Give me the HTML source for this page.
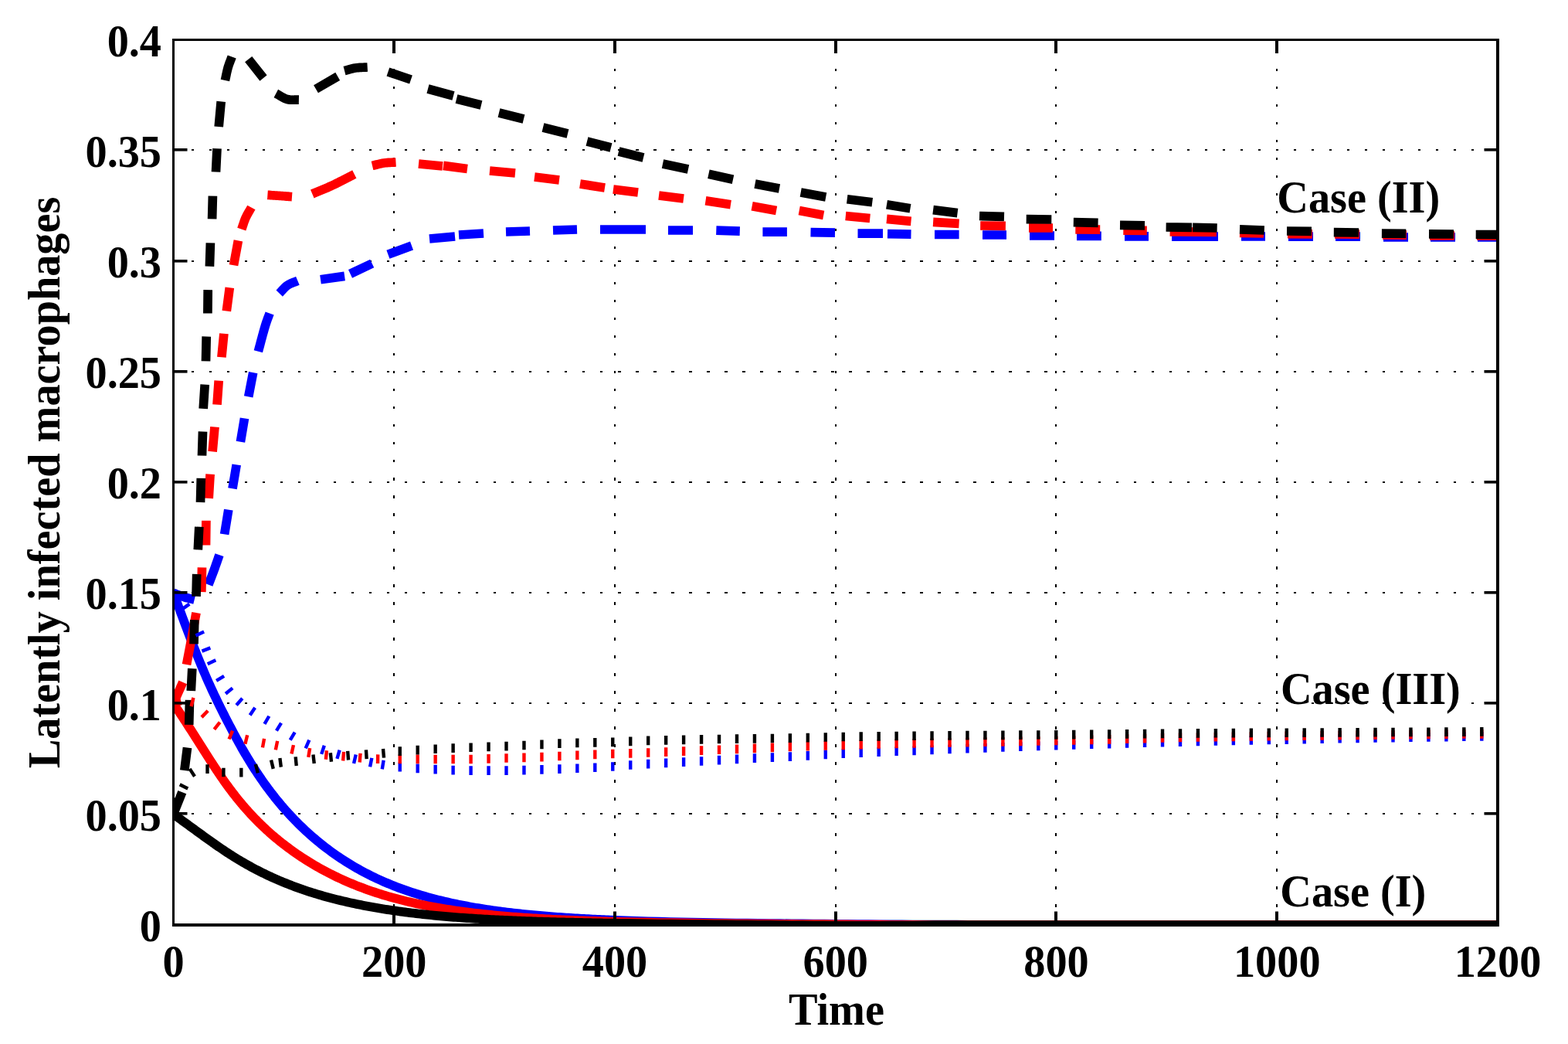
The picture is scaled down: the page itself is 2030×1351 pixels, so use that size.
<!DOCTYPE html>
<html><head><meta charset="utf-8"><title>Latently infected macrophages</title><style>html,body{margin:0;padding:0;background:#fff;overflow:hidden}svg{display:block}</style></head><body>
<svg width="2030" height="1351" viewBox="0 0 2030 1351">
<defs><clipPath id="ax"><rect x="224.5" y="51.5" width="1714.5" height="1145.5"/></clipPath></defs>
<rect width="2030" height="1351" fill="#fff"/>
<g fill="#000" shape-rendering="crispEdges"><rect x="509" y="1170" width="2" height="4"/><rect x="509" y="1147" width="2" height="4"/><rect x="509" y="1124" width="2" height="4"/><rect x="509" y="1101" width="2" height="4"/><rect x="509" y="1078" width="2" height="4"/><rect x="509" y="1055" width="2" height="4"/><rect x="509" y="1032" width="2" height="4"/><rect x="509" y="1009" width="2" height="4"/><rect x="509" y="986" width="2" height="4"/><rect x="509" y="963" width="2" height="4"/><rect x="509" y="940" width="2" height="4"/><rect x="509" y="917" width="2" height="4"/><rect x="509" y="894" width="2" height="4"/><rect x="509" y="871" width="2" height="4"/><rect x="509" y="848" width="2" height="4"/><rect x="509" y="825" width="2" height="4"/><rect x="509" y="802" width="2" height="4"/><rect x="509" y="779" width="2" height="4"/><rect x="509" y="756" width="2" height="4"/><rect x="509" y="733" width="2" height="4"/><rect x="509" y="710" width="2" height="4"/><rect x="509" y="687" width="2" height="4"/><rect x="509" y="664" width="2" height="4"/><rect x="509" y="641" width="2" height="4"/><rect x="509" y="618" width="2" height="4"/><rect x="509" y="595" width="2" height="3"/><rect x="509" y="572" width="2" height="3"/><rect x="509" y="549" width="2" height="3"/><rect x="509" y="526" width="2" height="3"/><rect x="509" y="503" width="2" height="3"/><rect x="509" y="480" width="2" height="3"/><rect x="509" y="457" width="2" height="3"/><rect x="509" y="434" width="2" height="3"/><rect x="509" y="411" width="2" height="3"/><rect x="509" y="388" width="2" height="3"/><rect x="509" y="365" width="2" height="3"/><rect x="509" y="342" width="2" height="3"/><rect x="509" y="319" width="2" height="3"/><rect x="509" y="296" width="2" height="3"/><rect x="509" y="273" width="2" height="3"/><rect x="509" y="250" width="2" height="3"/><rect x="509" y="227" width="2" height="3"/><rect x="509" y="204" width="2" height="3"/><rect x="509" y="181" width="2" height="3"/><rect x="509" y="158" width="2" height="3"/><rect x="509" y="135" width="2" height="3"/><rect x="509" y="112" width="2" height="3"/><rect x="509" y="89" width="2" height="3"/><rect x="509" y="66" width="2" height="3"/><rect x="795" y="1170" width="2" height="4"/><rect x="795" y="1147" width="2" height="4"/><rect x="795" y="1124" width="2" height="4"/><rect x="795" y="1101" width="2" height="4"/><rect x="795" y="1078" width="2" height="4"/><rect x="795" y="1055" width="2" height="4"/><rect x="795" y="1032" width="2" height="4"/><rect x="795" y="1009" width="2" height="4"/><rect x="795" y="986" width="2" height="4"/><rect x="795" y="963" width="2" height="4"/><rect x="795" y="940" width="2" height="4"/><rect x="795" y="917" width="2" height="4"/><rect x="795" y="894" width="2" height="4"/><rect x="795" y="871" width="2" height="4"/><rect x="795" y="848" width="2" height="4"/><rect x="795" y="825" width="2" height="4"/><rect x="795" y="802" width="2" height="4"/><rect x="795" y="779" width="2" height="4"/><rect x="795" y="756" width="2" height="4"/><rect x="795" y="733" width="2" height="4"/><rect x="795" y="710" width="2" height="4"/><rect x="795" y="687" width="2" height="4"/><rect x="795" y="664" width="2" height="4"/><rect x="795" y="641" width="2" height="4"/><rect x="795" y="618" width="2" height="4"/><rect x="795" y="595" width="2" height="3"/><rect x="795" y="572" width="2" height="3"/><rect x="795" y="549" width="2" height="3"/><rect x="795" y="526" width="2" height="3"/><rect x="795" y="503" width="2" height="3"/><rect x="795" y="480" width="2" height="3"/><rect x="795" y="457" width="2" height="3"/><rect x="795" y="434" width="2" height="3"/><rect x="795" y="411" width="2" height="3"/><rect x="795" y="388" width="2" height="3"/><rect x="795" y="365" width="2" height="3"/><rect x="795" y="342" width="2" height="3"/><rect x="795" y="319" width="2" height="3"/><rect x="795" y="296" width="2" height="3"/><rect x="795" y="273" width="2" height="3"/><rect x="795" y="250" width="2" height="3"/><rect x="795" y="227" width="2" height="3"/><rect x="795" y="204" width="2" height="3"/><rect x="795" y="181" width="2" height="3"/><rect x="795" y="158" width="2" height="3"/><rect x="795" y="135" width="2" height="3"/><rect x="795" y="112" width="2" height="3"/><rect x="795" y="89" width="2" height="3"/><rect x="795" y="66" width="2" height="3"/><rect x="1081" y="1170" width="2" height="4"/><rect x="1081" y="1147" width="2" height="4"/><rect x="1081" y="1124" width="2" height="4"/><rect x="1081" y="1101" width="2" height="4"/><rect x="1081" y="1078" width="2" height="4"/><rect x="1081" y="1055" width="2" height="4"/><rect x="1081" y="1032" width="2" height="4"/><rect x="1081" y="1009" width="2" height="4"/><rect x="1081" y="986" width="2" height="4"/><rect x="1081" y="963" width="2" height="4"/><rect x="1081" y="940" width="2" height="4"/><rect x="1081" y="917" width="2" height="4"/><rect x="1081" y="894" width="2" height="4"/><rect x="1081" y="871" width="2" height="4"/><rect x="1081" y="848" width="2" height="4"/><rect x="1081" y="825" width="2" height="4"/><rect x="1081" y="802" width="2" height="4"/><rect x="1081" y="779" width="2" height="4"/><rect x="1081" y="756" width="2" height="4"/><rect x="1081" y="733" width="2" height="4"/><rect x="1081" y="710" width="2" height="4"/><rect x="1081" y="687" width="2" height="4"/><rect x="1081" y="664" width="2" height="4"/><rect x="1081" y="641" width="2" height="4"/><rect x="1081" y="618" width="2" height="4"/><rect x="1081" y="595" width="2" height="3"/><rect x="1081" y="572" width="2" height="3"/><rect x="1081" y="549" width="2" height="3"/><rect x="1081" y="526" width="2" height="3"/><rect x="1081" y="503" width="2" height="3"/><rect x="1081" y="480" width="2" height="3"/><rect x="1081" y="457" width="2" height="3"/><rect x="1081" y="434" width="2" height="3"/><rect x="1081" y="411" width="2" height="3"/><rect x="1081" y="388" width="2" height="3"/><rect x="1081" y="365" width="2" height="3"/><rect x="1081" y="342" width="2" height="3"/><rect x="1081" y="319" width="2" height="3"/><rect x="1081" y="296" width="2" height="3"/><rect x="1081" y="273" width="2" height="3"/><rect x="1081" y="250" width="2" height="3"/><rect x="1081" y="227" width="2" height="3"/><rect x="1081" y="204" width="2" height="3"/><rect x="1081" y="181" width="2" height="3"/><rect x="1081" y="158" width="2" height="3"/><rect x="1081" y="135" width="2" height="3"/><rect x="1081" y="112" width="2" height="3"/><rect x="1081" y="89" width="2" height="3"/><rect x="1081" y="66" width="2" height="3"/><rect x="1366" y="1170" width="2" height="4"/><rect x="1366" y="1147" width="2" height="4"/><rect x="1366" y="1124" width="2" height="4"/><rect x="1366" y="1101" width="2" height="4"/><rect x="1366" y="1078" width="2" height="4"/><rect x="1366" y="1055" width="2" height="4"/><rect x="1366" y="1032" width="2" height="4"/><rect x="1366" y="1009" width="2" height="4"/><rect x="1366" y="986" width="2" height="4"/><rect x="1366" y="963" width="2" height="4"/><rect x="1366" y="940" width="2" height="4"/><rect x="1366" y="917" width="2" height="4"/><rect x="1366" y="894" width="2" height="4"/><rect x="1366" y="871" width="2" height="4"/><rect x="1366" y="848" width="2" height="4"/><rect x="1366" y="825" width="2" height="4"/><rect x="1366" y="802" width="2" height="4"/><rect x="1366" y="779" width="2" height="4"/><rect x="1366" y="756" width="2" height="4"/><rect x="1366" y="733" width="2" height="4"/><rect x="1366" y="710" width="2" height="4"/><rect x="1366" y="687" width="2" height="4"/><rect x="1366" y="664" width="2" height="4"/><rect x="1366" y="641" width="2" height="4"/><rect x="1366" y="618" width="2" height="4"/><rect x="1366" y="595" width="2" height="3"/><rect x="1366" y="572" width="2" height="3"/><rect x="1366" y="549" width="2" height="3"/><rect x="1366" y="526" width="2" height="3"/><rect x="1366" y="503" width="2" height="3"/><rect x="1366" y="480" width="2" height="3"/><rect x="1366" y="457" width="2" height="3"/><rect x="1366" y="434" width="2" height="3"/><rect x="1366" y="411" width="2" height="3"/><rect x="1366" y="388" width="2" height="3"/><rect x="1366" y="365" width="2" height="3"/><rect x="1366" y="342" width="2" height="3"/><rect x="1366" y="319" width="2" height="3"/><rect x="1366" y="296" width="2" height="3"/><rect x="1366" y="273" width="2" height="3"/><rect x="1366" y="250" width="2" height="3"/><rect x="1366" y="227" width="2" height="3"/><rect x="1366" y="204" width="2" height="3"/><rect x="1366" y="181" width="2" height="3"/><rect x="1366" y="158" width="2" height="3"/><rect x="1366" y="135" width="2" height="3"/><rect x="1366" y="112" width="2" height="3"/><rect x="1366" y="89" width="2" height="3"/><rect x="1366" y="66" width="2" height="3"/><rect x="1652" y="1170" width="2" height="4"/><rect x="1652" y="1147" width="2" height="4"/><rect x="1652" y="1124" width="2" height="4"/><rect x="1652" y="1101" width="2" height="4"/><rect x="1652" y="1078" width="2" height="4"/><rect x="1652" y="1055" width="2" height="4"/><rect x="1652" y="1032" width="2" height="4"/><rect x="1652" y="1009" width="2" height="4"/><rect x="1652" y="986" width="2" height="4"/><rect x="1652" y="963" width="2" height="4"/><rect x="1652" y="940" width="2" height="4"/><rect x="1652" y="917" width="2" height="4"/><rect x="1652" y="894" width="2" height="4"/><rect x="1652" y="871" width="2" height="4"/><rect x="1652" y="848" width="2" height="4"/><rect x="1652" y="825" width="2" height="4"/><rect x="1652" y="802" width="2" height="4"/><rect x="1652" y="779" width="2" height="4"/><rect x="1652" y="756" width="2" height="4"/><rect x="1652" y="733" width="2" height="4"/><rect x="1652" y="710" width="2" height="4"/><rect x="1652" y="687" width="2" height="4"/><rect x="1652" y="664" width="2" height="4"/><rect x="1652" y="641" width="2" height="4"/><rect x="1652" y="618" width="2" height="4"/><rect x="1652" y="595" width="2" height="3"/><rect x="1652" y="572" width="2" height="3"/><rect x="1652" y="549" width="2" height="3"/><rect x="1652" y="526" width="2" height="3"/><rect x="1652" y="503" width="2" height="3"/><rect x="1652" y="480" width="2" height="3"/><rect x="1652" y="457" width="2" height="3"/><rect x="1652" y="434" width="2" height="3"/><rect x="1652" y="411" width="2" height="3"/><rect x="1652" y="388" width="2" height="3"/><rect x="1652" y="365" width="2" height="3"/><rect x="1652" y="342" width="2" height="3"/><rect x="1652" y="319" width="2" height="3"/><rect x="1652" y="296" width="2" height="3"/><rect x="1652" y="273" width="2" height="3"/><rect x="1652" y="250" width="2" height="3"/><rect x="1652" y="227" width="2" height="3"/><rect x="1652" y="204" width="2" height="3"/><rect x="1652" y="181" width="2" height="3"/><rect x="1652" y="158" width="2" height="3"/><rect x="1652" y="135" width="2" height="3"/><rect x="1652" y="112" width="2" height="3"/><rect x="1652" y="89" width="2" height="3"/><rect x="1652" y="66" width="2" height="3"/><rect x="248" y="1052" width="3" height="2"/><rect x="271" y="1052" width="3" height="2"/><rect x="294" y="1052" width="3" height="2"/><rect x="317" y="1052" width="3" height="2"/><rect x="340" y="1052" width="3" height="2"/><rect x="363" y="1052" width="3" height="2"/><rect x="386" y="1052" width="3" height="2"/><rect x="409" y="1052" width="3" height="2"/><rect x="432" y="1052" width="3" height="2"/><rect x="455" y="1052" width="3" height="2"/><rect x="478" y="1052" width="3" height="2"/><rect x="501" y="1052" width="3" height="2"/><rect x="524" y="1052" width="3" height="2"/><rect x="547" y="1052" width="3" height="2"/><rect x="570" y="1052" width="3" height="2"/><rect x="593" y="1052" width="3" height="2"/><rect x="616" y="1052" width="3" height="2"/><rect x="639" y="1052" width="3" height="2"/><rect x="662" y="1052" width="3" height="2"/><rect x="685" y="1052" width="3" height="2"/><rect x="708" y="1052" width="3" height="2"/><rect x="731" y="1052" width="3" height="2"/><rect x="754" y="1052" width="3" height="2"/><rect x="777" y="1052" width="3" height="2"/><rect x="800" y="1052" width="4" height="2"/><rect x="823" y="1052" width="4" height="2"/><rect x="846" y="1052" width="4" height="2"/><rect x="869" y="1052" width="4" height="2"/><rect x="892" y="1052" width="4" height="2"/><rect x="915" y="1052" width="4" height="2"/><rect x="938" y="1052" width="4" height="2"/><rect x="961" y="1052" width="4" height="2"/><rect x="984" y="1052" width="4" height="2"/><rect x="1007" y="1052" width="4" height="2"/><rect x="1030" y="1052" width="4" height="2"/><rect x="1053" y="1052" width="4" height="2"/><rect x="1076" y="1052" width="4" height="2"/><rect x="1099" y="1052" width="4" height="2"/><rect x="1122" y="1052" width="4" height="2"/><rect x="1145" y="1052" width="4" height="2"/><rect x="1168" y="1052" width="4" height="2"/><rect x="1191" y="1052" width="4" height="2"/><rect x="1214" y="1052" width="4" height="2"/><rect x="1237" y="1052" width="4" height="2"/><rect x="1260" y="1052" width="4" height="2"/><rect x="1283" y="1052" width="4" height="2"/><rect x="1306" y="1052" width="4" height="2"/><rect x="1329" y="1052" width="4" height="2"/><rect x="1352" y="1052" width="4" height="2"/><rect x="1376" y="1052" width="3" height="2"/><rect x="1399" y="1052" width="3" height="2"/><rect x="1422" y="1052" width="3" height="2"/><rect x="1445" y="1052" width="3" height="2"/><rect x="1468" y="1052" width="3" height="2"/><rect x="1491" y="1052" width="3" height="2"/><rect x="1514" y="1052" width="3" height="2"/><rect x="1537" y="1052" width="3" height="2"/><rect x="1560" y="1052" width="3" height="2"/><rect x="1583" y="1052" width="3" height="2"/><rect x="1606" y="1052" width="3" height="2"/><rect x="1629" y="1052" width="3" height="2"/><rect x="1652" y="1052" width="3" height="2"/><rect x="1675" y="1052" width="3" height="2"/><rect x="1698" y="1052" width="3" height="2"/><rect x="1721" y="1052" width="3" height="2"/><rect x="1744" y="1052" width="3" height="2"/><rect x="1767" y="1052" width="3" height="2"/><rect x="1790" y="1052" width="3" height="2"/><rect x="1813" y="1052" width="3" height="2"/><rect x="1836" y="1052" width="3" height="2"/><rect x="1859" y="1052" width="3" height="2"/><rect x="1882" y="1052" width="3" height="2"/><rect x="1905" y="1052" width="3" height="2"/><rect x="1928" y="1052" width="3" height="2"/><rect x="248" y="909" width="3" height="2"/><rect x="271" y="909" width="3" height="2"/><rect x="294" y="909" width="3" height="2"/><rect x="317" y="909" width="3" height="2"/><rect x="340" y="909" width="3" height="2"/><rect x="363" y="909" width="3" height="2"/><rect x="386" y="909" width="3" height="2"/><rect x="409" y="909" width="3" height="2"/><rect x="432" y="909" width="3" height="2"/><rect x="455" y="909" width="3" height="2"/><rect x="478" y="909" width="3" height="2"/><rect x="501" y="909" width="3" height="2"/><rect x="524" y="909" width="3" height="2"/><rect x="547" y="909" width="3" height="2"/><rect x="570" y="909" width="3" height="2"/><rect x="593" y="909" width="3" height="2"/><rect x="616" y="909" width="3" height="2"/><rect x="639" y="909" width="3" height="2"/><rect x="662" y="909" width="3" height="2"/><rect x="685" y="909" width="3" height="2"/><rect x="708" y="909" width="3" height="2"/><rect x="731" y="909" width="3" height="2"/><rect x="754" y="909" width="3" height="2"/><rect x="777" y="909" width="3" height="2"/><rect x="800" y="909" width="4" height="2"/><rect x="823" y="909" width="4" height="2"/><rect x="846" y="909" width="4" height="2"/><rect x="869" y="909" width="4" height="2"/><rect x="892" y="909" width="4" height="2"/><rect x="915" y="909" width="4" height="2"/><rect x="938" y="909" width="4" height="2"/><rect x="961" y="909" width="4" height="2"/><rect x="984" y="909" width="4" height="2"/><rect x="1007" y="909" width="4" height="2"/><rect x="1030" y="909" width="4" height="2"/><rect x="1053" y="909" width="4" height="2"/><rect x="1076" y="909" width="4" height="2"/><rect x="1099" y="909" width="4" height="2"/><rect x="1122" y="909" width="4" height="2"/><rect x="1145" y="909" width="4" height="2"/><rect x="1168" y="909" width="4" height="2"/><rect x="1191" y="909" width="4" height="2"/><rect x="1214" y="909" width="4" height="2"/><rect x="1237" y="909" width="4" height="2"/><rect x="1260" y="909" width="4" height="2"/><rect x="1283" y="909" width="4" height="2"/><rect x="1306" y="909" width="4" height="2"/><rect x="1329" y="909" width="4" height="2"/><rect x="1352" y="909" width="4" height="2"/><rect x="1376" y="909" width="3" height="2"/><rect x="1399" y="909" width="3" height="2"/><rect x="1422" y="909" width="3" height="2"/><rect x="1445" y="909" width="3" height="2"/><rect x="1468" y="909" width="3" height="2"/><rect x="1491" y="909" width="3" height="2"/><rect x="1514" y="909" width="3" height="2"/><rect x="1537" y="909" width="3" height="2"/><rect x="1560" y="909" width="3" height="2"/><rect x="1583" y="909" width="3" height="2"/><rect x="1606" y="909" width="3" height="2"/><rect x="1629" y="909" width="3" height="2"/><rect x="1652" y="909" width="3" height="2"/><rect x="1675" y="909" width="3" height="2"/><rect x="1698" y="909" width="3" height="2"/><rect x="1721" y="909" width="3" height="2"/><rect x="1744" y="909" width="3" height="2"/><rect x="1767" y="909" width="3" height="2"/><rect x="1790" y="909" width="3" height="2"/><rect x="1813" y="909" width="3" height="2"/><rect x="1836" y="909" width="3" height="2"/><rect x="1859" y="909" width="3" height="2"/><rect x="1882" y="909" width="3" height="2"/><rect x="1905" y="909" width="3" height="2"/><rect x="1928" y="909" width="3" height="2"/><rect x="248" y="766" width="3" height="2"/><rect x="271" y="766" width="3" height="2"/><rect x="294" y="766" width="3" height="2"/><rect x="317" y="766" width="3" height="2"/><rect x="340" y="766" width="3" height="2"/><rect x="363" y="766" width="3" height="2"/><rect x="386" y="766" width="3" height="2"/><rect x="409" y="766" width="3" height="2"/><rect x="432" y="766" width="3" height="2"/><rect x="455" y="766" width="3" height="2"/><rect x="478" y="766" width="3" height="2"/><rect x="501" y="766" width="3" height="2"/><rect x="524" y="766" width="3" height="2"/><rect x="547" y="766" width="3" height="2"/><rect x="570" y="766" width="3" height="2"/><rect x="593" y="766" width="3" height="2"/><rect x="616" y="766" width="3" height="2"/><rect x="639" y="766" width="3" height="2"/><rect x="662" y="766" width="3" height="2"/><rect x="685" y="766" width="3" height="2"/><rect x="708" y="766" width="3" height="2"/><rect x="731" y="766" width="3" height="2"/><rect x="754" y="766" width="3" height="2"/><rect x="777" y="766" width="3" height="2"/><rect x="800" y="766" width="4" height="2"/><rect x="823" y="766" width="4" height="2"/><rect x="846" y="766" width="4" height="2"/><rect x="869" y="766" width="4" height="2"/><rect x="892" y="766" width="4" height="2"/><rect x="915" y="766" width="4" height="2"/><rect x="938" y="766" width="4" height="2"/><rect x="961" y="766" width="4" height="2"/><rect x="984" y="766" width="4" height="2"/><rect x="1007" y="766" width="4" height="2"/><rect x="1030" y="766" width="4" height="2"/><rect x="1053" y="766" width="4" height="2"/><rect x="1076" y="766" width="4" height="2"/><rect x="1099" y="766" width="4" height="2"/><rect x="1122" y="766" width="4" height="2"/><rect x="1145" y="766" width="4" height="2"/><rect x="1168" y="766" width="4" height="2"/><rect x="1191" y="766" width="4" height="2"/><rect x="1214" y="766" width="4" height="2"/><rect x="1237" y="766" width="4" height="2"/><rect x="1260" y="766" width="4" height="2"/><rect x="1283" y="766" width="4" height="2"/><rect x="1306" y="766" width="4" height="2"/><rect x="1329" y="766" width="4" height="2"/><rect x="1352" y="766" width="4" height="2"/><rect x="1376" y="766" width="3" height="2"/><rect x="1399" y="766" width="3" height="2"/><rect x="1422" y="766" width="3" height="2"/><rect x="1445" y="766" width="3" height="2"/><rect x="1468" y="766" width="3" height="2"/><rect x="1491" y="766" width="3" height="2"/><rect x="1514" y="766" width="3" height="2"/><rect x="1537" y="766" width="3" height="2"/><rect x="1560" y="766" width="3" height="2"/><rect x="1583" y="766" width="3" height="2"/><rect x="1606" y="766" width="3" height="2"/><rect x="1629" y="766" width="3" height="2"/><rect x="1652" y="766" width="3" height="2"/><rect x="1675" y="766" width="3" height="2"/><rect x="1698" y="766" width="3" height="2"/><rect x="1721" y="766" width="3" height="2"/><rect x="1744" y="766" width="3" height="2"/><rect x="1767" y="766" width="3" height="2"/><rect x="1790" y="766" width="3" height="2"/><rect x="1813" y="766" width="3" height="2"/><rect x="1836" y="766" width="3" height="2"/><rect x="1859" y="766" width="3" height="2"/><rect x="1882" y="766" width="3" height="2"/><rect x="1905" y="766" width="3" height="2"/><rect x="1928" y="766" width="3" height="2"/><rect x="248" y="623" width="3" height="2"/><rect x="271" y="623" width="3" height="2"/><rect x="294" y="623" width="3" height="2"/><rect x="317" y="623" width="3" height="2"/><rect x="340" y="623" width="3" height="2"/><rect x="363" y="623" width="3" height="2"/><rect x="386" y="623" width="3" height="2"/><rect x="409" y="623" width="3" height="2"/><rect x="432" y="623" width="3" height="2"/><rect x="455" y="623" width="3" height="2"/><rect x="478" y="623" width="3" height="2"/><rect x="501" y="623" width="3" height="2"/><rect x="524" y="623" width="3" height="2"/><rect x="547" y="623" width="3" height="2"/><rect x="570" y="623" width="3" height="2"/><rect x="593" y="623" width="3" height="2"/><rect x="616" y="623" width="3" height="2"/><rect x="639" y="623" width="3" height="2"/><rect x="662" y="623" width="3" height="2"/><rect x="685" y="623" width="3" height="2"/><rect x="708" y="623" width="3" height="2"/><rect x="731" y="623" width="3" height="2"/><rect x="754" y="623" width="3" height="2"/><rect x="777" y="623" width="3" height="2"/><rect x="800" y="623" width="4" height="2"/><rect x="823" y="623" width="4" height="2"/><rect x="846" y="623" width="4" height="2"/><rect x="869" y="623" width="4" height="2"/><rect x="892" y="623" width="4" height="2"/><rect x="915" y="623" width="4" height="2"/><rect x="938" y="623" width="4" height="2"/><rect x="961" y="623" width="4" height="2"/><rect x="984" y="623" width="4" height="2"/><rect x="1007" y="623" width="4" height="2"/><rect x="1030" y="623" width="4" height="2"/><rect x="1053" y="623" width="4" height="2"/><rect x="1076" y="623" width="4" height="2"/><rect x="1099" y="623" width="4" height="2"/><rect x="1122" y="623" width="4" height="2"/><rect x="1145" y="623" width="4" height="2"/><rect x="1168" y="623" width="4" height="2"/><rect x="1191" y="623" width="4" height="2"/><rect x="1214" y="623" width="4" height="2"/><rect x="1237" y="623" width="4" height="2"/><rect x="1260" y="623" width="4" height="2"/><rect x="1283" y="623" width="4" height="2"/><rect x="1306" y="623" width="4" height="2"/><rect x="1329" y="623" width="4" height="2"/><rect x="1352" y="623" width="4" height="2"/><rect x="1376" y="623" width="3" height="2"/><rect x="1399" y="623" width="3" height="2"/><rect x="1422" y="623" width="3" height="2"/><rect x="1445" y="623" width="3" height="2"/><rect x="1468" y="623" width="3" height="2"/><rect x="1491" y="623" width="3" height="2"/><rect x="1514" y="623" width="3" height="2"/><rect x="1537" y="623" width="3" height="2"/><rect x="1560" y="623" width="3" height="2"/><rect x="1583" y="623" width="3" height="2"/><rect x="1606" y="623" width="3" height="2"/><rect x="1629" y="623" width="3" height="2"/><rect x="1652" y="623" width="3" height="2"/><rect x="1675" y="623" width="3" height="2"/><rect x="1698" y="623" width="3" height="2"/><rect x="1721" y="623" width="3" height="2"/><rect x="1744" y="623" width="3" height="2"/><rect x="1767" y="623" width="3" height="2"/><rect x="1790" y="623" width="3" height="2"/><rect x="1813" y="623" width="3" height="2"/><rect x="1836" y="623" width="3" height="2"/><rect x="1859" y="623" width="3" height="2"/><rect x="1882" y="623" width="3" height="2"/><rect x="1905" y="623" width="3" height="2"/><rect x="1928" y="623" width="3" height="2"/><rect x="248" y="480" width="3" height="2"/><rect x="271" y="480" width="3" height="2"/><rect x="294" y="480" width="3" height="2"/><rect x="317" y="480" width="3" height="2"/><rect x="340" y="480" width="3" height="2"/><rect x="363" y="480" width="3" height="2"/><rect x="386" y="480" width="3" height="2"/><rect x="409" y="480" width="3" height="2"/><rect x="432" y="480" width="3" height="2"/><rect x="455" y="480" width="3" height="2"/><rect x="478" y="480" width="3" height="2"/><rect x="501" y="480" width="3" height="2"/><rect x="524" y="480" width="3" height="2"/><rect x="547" y="480" width="3" height="2"/><rect x="570" y="480" width="3" height="2"/><rect x="593" y="480" width="3" height="2"/><rect x="616" y="480" width="3" height="2"/><rect x="639" y="480" width="3" height="2"/><rect x="662" y="480" width="3" height="2"/><rect x="685" y="480" width="3" height="2"/><rect x="708" y="480" width="3" height="2"/><rect x="731" y="480" width="3" height="2"/><rect x="754" y="480" width="3" height="2"/><rect x="777" y="480" width="3" height="2"/><rect x="800" y="480" width="4" height="2"/><rect x="823" y="480" width="4" height="2"/><rect x="846" y="480" width="4" height="2"/><rect x="869" y="480" width="4" height="2"/><rect x="892" y="480" width="4" height="2"/><rect x="915" y="480" width="4" height="2"/><rect x="938" y="480" width="4" height="2"/><rect x="961" y="480" width="4" height="2"/><rect x="984" y="480" width="4" height="2"/><rect x="1007" y="480" width="4" height="2"/><rect x="1030" y="480" width="4" height="2"/><rect x="1053" y="480" width="4" height="2"/><rect x="1076" y="480" width="4" height="2"/><rect x="1099" y="480" width="4" height="2"/><rect x="1122" y="480" width="4" height="2"/><rect x="1145" y="480" width="4" height="2"/><rect x="1168" y="480" width="4" height="2"/><rect x="1191" y="480" width="4" height="2"/><rect x="1214" y="480" width="4" height="2"/><rect x="1237" y="480" width="4" height="2"/><rect x="1260" y="480" width="4" height="2"/><rect x="1283" y="480" width="4" height="2"/><rect x="1306" y="480" width="4" height="2"/><rect x="1329" y="480" width="4" height="2"/><rect x="1352" y="480" width="4" height="2"/><rect x="1376" y="480" width="3" height="2"/><rect x="1399" y="480" width="3" height="2"/><rect x="1422" y="480" width="3" height="2"/><rect x="1445" y="480" width="3" height="2"/><rect x="1468" y="480" width="3" height="2"/><rect x="1491" y="480" width="3" height="2"/><rect x="1514" y="480" width="3" height="2"/><rect x="1537" y="480" width="3" height="2"/><rect x="1560" y="480" width="3" height="2"/><rect x="1583" y="480" width="3" height="2"/><rect x="1606" y="480" width="3" height="2"/><rect x="1629" y="480" width="3" height="2"/><rect x="1652" y="480" width="3" height="2"/><rect x="1675" y="480" width="3" height="2"/><rect x="1698" y="480" width="3" height="2"/><rect x="1721" y="480" width="3" height="2"/><rect x="1744" y="480" width="3" height="2"/><rect x="1767" y="480" width="3" height="2"/><rect x="1790" y="480" width="3" height="2"/><rect x="1813" y="480" width="3" height="2"/><rect x="1836" y="480" width="3" height="2"/><rect x="1859" y="480" width="3" height="2"/><rect x="1882" y="480" width="3" height="2"/><rect x="1905" y="480" width="3" height="2"/><rect x="1928" y="480" width="3" height="2"/><rect x="248" y="337" width="3" height="2"/><rect x="271" y="337" width="3" height="2"/><rect x="294" y="337" width="3" height="2"/><rect x="317" y="337" width="3" height="2"/><rect x="340" y="337" width="3" height="2"/><rect x="363" y="337" width="3" height="2"/><rect x="386" y="337" width="3" height="2"/><rect x="409" y="337" width="3" height="2"/><rect x="432" y="337" width="3" height="2"/><rect x="455" y="337" width="3" height="2"/><rect x="478" y="337" width="3" height="2"/><rect x="501" y="337" width="3" height="2"/><rect x="524" y="337" width="3" height="2"/><rect x="547" y="337" width="3" height="2"/><rect x="570" y="337" width="3" height="2"/><rect x="593" y="337" width="3" height="2"/><rect x="616" y="337" width="3" height="2"/><rect x="639" y="337" width="3" height="2"/><rect x="662" y="337" width="3" height="2"/><rect x="685" y="337" width="3" height="2"/><rect x="708" y="337" width="3" height="2"/><rect x="731" y="337" width="3" height="2"/><rect x="754" y="337" width="3" height="2"/><rect x="777" y="337" width="3" height="2"/><rect x="800" y="337" width="4" height="2"/><rect x="823" y="337" width="4" height="2"/><rect x="846" y="337" width="4" height="2"/><rect x="869" y="337" width="4" height="2"/><rect x="892" y="337" width="4" height="2"/><rect x="915" y="337" width="4" height="2"/><rect x="938" y="337" width="4" height="2"/><rect x="961" y="337" width="4" height="2"/><rect x="984" y="337" width="4" height="2"/><rect x="1007" y="337" width="4" height="2"/><rect x="1030" y="337" width="4" height="2"/><rect x="1053" y="337" width="4" height="2"/><rect x="1076" y="337" width="4" height="2"/><rect x="1099" y="337" width="4" height="2"/><rect x="1122" y="337" width="4" height="2"/><rect x="1145" y="337" width="4" height="2"/><rect x="1168" y="337" width="4" height="2"/><rect x="1191" y="337" width="4" height="2"/><rect x="1214" y="337" width="4" height="2"/><rect x="1237" y="337" width="4" height="2"/><rect x="1260" y="337" width="4" height="2"/><rect x="1283" y="337" width="4" height="2"/><rect x="1306" y="337" width="4" height="2"/><rect x="1329" y="337" width="4" height="2"/><rect x="1352" y="337" width="4" height="2"/><rect x="1376" y="337" width="3" height="2"/><rect x="1399" y="337" width="3" height="2"/><rect x="1422" y="337" width="3" height="2"/><rect x="1445" y="337" width="3" height="2"/><rect x="1468" y="337" width="3" height="2"/><rect x="1491" y="337" width="3" height="2"/><rect x="1514" y="337" width="3" height="2"/><rect x="1537" y="337" width="3" height="2"/><rect x="1560" y="337" width="3" height="2"/><rect x="1583" y="337" width="3" height="2"/><rect x="1606" y="337" width="3" height="2"/><rect x="1629" y="337" width="3" height="2"/><rect x="1652" y="337" width="3" height="2"/><rect x="1675" y="337" width="3" height="2"/><rect x="1698" y="337" width="3" height="2"/><rect x="1721" y="337" width="3" height="2"/><rect x="1744" y="337" width="3" height="2"/><rect x="1767" y="337" width="3" height="2"/><rect x="1790" y="337" width="3" height="2"/><rect x="1813" y="337" width="3" height="2"/><rect x="1836" y="337" width="3" height="2"/><rect x="1859" y="337" width="3" height="2"/><rect x="1882" y="337" width="3" height="2"/><rect x="1905" y="337" width="3" height="2"/><rect x="1928" y="337" width="3" height="2"/><rect x="248" y="193" width="3" height="2"/><rect x="271" y="193" width="3" height="2"/><rect x="294" y="193" width="3" height="2"/><rect x="317" y="193" width="3" height="2"/><rect x="340" y="193" width="3" height="2"/><rect x="363" y="193" width="3" height="2"/><rect x="386" y="193" width="3" height="2"/><rect x="409" y="193" width="3" height="2"/><rect x="432" y="193" width="3" height="2"/><rect x="455" y="193" width="3" height="2"/><rect x="478" y="193" width="3" height="2"/><rect x="501" y="193" width="3" height="2"/><rect x="524" y="193" width="3" height="2"/><rect x="547" y="193" width="3" height="2"/><rect x="570" y="193" width="3" height="2"/><rect x="593" y="193" width="3" height="2"/><rect x="616" y="193" width="3" height="2"/><rect x="639" y="193" width="3" height="2"/><rect x="662" y="193" width="3" height="2"/><rect x="685" y="193" width="3" height="2"/><rect x="708" y="193" width="3" height="2"/><rect x="731" y="193" width="3" height="2"/><rect x="754" y="193" width="3" height="2"/><rect x="777" y="193" width="3" height="2"/><rect x="800" y="193" width="4" height="2"/><rect x="823" y="193" width="4" height="2"/><rect x="846" y="193" width="4" height="2"/><rect x="869" y="193" width="4" height="2"/><rect x="892" y="193" width="4" height="2"/><rect x="915" y="193" width="4" height="2"/><rect x="938" y="193" width="4" height="2"/><rect x="961" y="193" width="4" height="2"/><rect x="984" y="193" width="4" height="2"/><rect x="1007" y="193" width="4" height="2"/><rect x="1030" y="193" width="4" height="2"/><rect x="1053" y="193" width="4" height="2"/><rect x="1076" y="193" width="4" height="2"/><rect x="1099" y="193" width="4" height="2"/><rect x="1122" y="193" width="4" height="2"/><rect x="1145" y="193" width="4" height="2"/><rect x="1168" y="193" width="4" height="2"/><rect x="1191" y="193" width="4" height="2"/><rect x="1214" y="193" width="4" height="2"/><rect x="1237" y="193" width="4" height="2"/><rect x="1260" y="193" width="4" height="2"/><rect x="1283" y="193" width="4" height="2"/><rect x="1306" y="193" width="4" height="2"/><rect x="1329" y="193" width="4" height="2"/><rect x="1352" y="193" width="4" height="2"/><rect x="1376" y="193" width="3" height="2"/><rect x="1399" y="193" width="3" height="2"/><rect x="1422" y="193" width="3" height="2"/><rect x="1445" y="193" width="3" height="2"/><rect x="1468" y="193" width="3" height="2"/><rect x="1491" y="193" width="3" height="2"/><rect x="1514" y="193" width="3" height="2"/><rect x="1537" y="193" width="3" height="2"/><rect x="1560" y="193" width="3" height="2"/><rect x="1583" y="193" width="3" height="2"/><rect x="1606" y="193" width="3" height="2"/><rect x="1629" y="193" width="3" height="2"/><rect x="1652" y="193" width="3" height="2"/><rect x="1675" y="193" width="3" height="2"/><rect x="1698" y="193" width="3" height="2"/><rect x="1721" y="193" width="3" height="2"/><rect x="1744" y="193" width="3" height="2"/><rect x="1767" y="193" width="3" height="2"/><rect x="1790" y="193" width="3" height="2"/><rect x="1813" y="193" width="3" height="2"/><rect x="1836" y="193" width="3" height="2"/><rect x="1859" y="193" width="3" height="2"/><rect x="1882" y="193" width="3" height="2"/><rect x="1905" y="193" width="3" height="2"/><rect x="1928" y="193" width="3" height="2"/></g>
<g clip-path="url(#ax)"><path d="M224.50 767.43 L225.93 771.22 L227.36 775.02 L228.79 778.83 L230.22 782.66 L231.64 786.48 L233.07 790.31 L234.50 794.14 L235.93 797.97 L237.36 801.79 L238.79 805.61 L240.22 809.42 L241.65 813.21 L243.07 816.98 L244.50 820.74 L245.93 824.48 L247.36 828.19 L248.79 831.88 L250.22 835.54 L251.65 839.17 L253.07 842.77 L254.50 846.34 L255.93 849.88 L257.36 853.39 L258.79 856.87 L260.22 860.32 L261.65 863.74 L263.08 867.12 L264.50 870.48 L265.93 873.79 L267.36 877.08 L268.79 880.33 L270.22 883.54 L271.65 886.72 L273.08 889.87 L274.51 892.98 L275.94 896.05 L277.36 899.10 L278.79 902.11 L280.22 905.10 L281.65 908.05 L283.08 910.98 L284.51 913.89 L285.94 916.77 L287.37 919.62 L288.79 922.46 L290.22 925.27 L291.65 928.07 L293.08 930.85 L294.51 933.61 L295.94 936.35 L297.37 939.09 L298.80 941.81 L300.22 944.51 L301.65 947.20 L303.08 949.88 L304.51 952.54 L305.94 955.18 L307.37 957.80 L308.80 960.39 L310.23 962.97 L311.65 965.51 L313.08 968.04 L314.51 970.53 L315.94 973.00 L317.37 975.44 L318.80 977.85 L320.23 980.24 L321.65 982.60 L323.08 984.93 L324.51 987.24 L325.94 989.53 L327.37 991.79 L328.80 994.02 L330.23 996.23 L331.66 998.41 L333.08 1000.57 L334.51 1002.71 L335.94 1004.82 L337.37 1006.91 L338.80 1008.97 L340.23 1011.01 L341.66 1013.03 L343.09 1015.03 L344.51 1017.00 L345.94 1018.96 L347.37 1020.89 L348.80 1022.80 L350.23 1024.68 L351.66 1026.55 L353.09 1028.40 L354.52 1030.22 L355.94 1032.03 L357.37 1033.81 L358.80 1035.57 L360.23 1037.32 L361.66 1039.05 L363.09 1040.75 L364.52 1042.44 L365.95 1044.11 L367.38 1045.76 L370.23 1049.00 L373.09 1052.17 L375.95 1055.28 L378.81 1058.31 L381.66 1061.28 L384.52 1064.19 L387.38 1067.03 L390.24 1069.81 L393.09 1072.53 L395.95 1075.19 L398.81 1077.80 L401.66 1080.35 L404.52 1082.85 L407.38 1085.29 L410.24 1087.69 L413.10 1090.04 L415.95 1092.34 L418.81 1094.59 L421.67 1096.80 L424.52 1098.97 L427.38 1101.09 L430.24 1103.16 L433.10 1105.19 L435.95 1107.19 L438.81 1109.14 L441.67 1111.05 L444.53 1112.92 L447.38 1114.75 L450.24 1116.54 L453.10 1118.30 L455.96 1120.02 L458.81 1121.70 L461.67 1123.34 L464.53 1124.96 L467.39 1126.53 L470.25 1128.08 L473.10 1129.59 L475.96 1131.07 L478.82 1132.51 L481.68 1133.93 L484.53 1135.31 L487.39 1136.67 L490.25 1137.99 L493.11 1139.29 L495.96 1140.56 L498.82 1141.80 L501.68 1143.01 L504.53 1144.20 L507.39 1145.36 L510.25 1146.49 L513.11 1147.60 L515.96 1148.69 L518.82 1149.75 L521.68 1150.78 L524.54 1151.80 L527.39 1152.79 L530.25 1153.76 L533.11 1154.71 L535.97 1155.64 L538.83 1156.55 L541.68 1157.43 L544.54 1158.30 L547.40 1159.15 L550.25 1159.98 L553.11 1160.79 L555.97 1161.58 L558.83 1162.35 L561.68 1163.11 L564.54 1163.85 L567.40 1164.57 L570.26 1165.28 L573.12 1165.97 L575.97 1166.65 L578.83 1167.31 L581.69 1167.95 L584.55 1168.59 L587.40 1169.20 L590.26 1169.81 L593.12 1170.39 L595.97 1170.97 L598.83 1171.53 L601.69 1172.08 L604.55 1172.62 L607.40 1173.15 L610.26 1173.66 L613.12 1174.16 L615.98 1174.65 L618.84 1175.13 L621.69 1175.60 L624.55 1176.06 L627.41 1176.50 L630.26 1176.94 L633.12 1177.37 L635.98 1177.78 L638.84 1178.19 L641.69 1178.59 L644.55 1178.98 L647.41 1179.36 L650.27 1179.73 L653.12 1180.10 L655.98 1180.45 L658.84 1180.80 L661.70 1181.14 L664.56 1181.47 L667.41 1181.79 L670.27 1182.11 L673.13 1182.42 L675.99 1182.72 L678.84 1183.01 L681.70 1183.30 L684.56 1183.58 L687.41 1183.86 L690.27 1184.13 L693.13 1184.39 L695.99 1184.65 L698.85 1184.90 L701.70 1185.14 L704.56 1185.38 L707.42 1185.62 L710.27 1185.85 L713.13 1186.07 L715.99 1186.29 L718.85 1186.50 L721.70 1186.71 L724.56 1186.92 L727.42 1187.12 L730.28 1187.31 L733.13 1187.50 L735.99 1187.69 L738.85 1187.87 L741.71 1188.05 L744.56 1188.22 L747.42 1188.39 L750.28 1188.56 L753.14 1188.72 L756.00 1188.88 L758.85 1189.03 L761.71 1189.19 L764.57 1189.33 L767.42 1189.48 L770.28 1189.62 L773.14 1189.76 L776.00 1189.90 L778.86 1190.03 L781.71 1190.16 L784.57 1190.29 L787.43 1190.41 L790.28 1190.53 L793.14 1190.65 L796.00 1190.77 L810.29 1191.31 L824.57 1191.80 L838.86 1192.23 L853.15 1192.63 L867.44 1192.98 L881.73 1193.30 L896.01 1193.59 L910.30 1193.85 L924.59 1194.09 L938.88 1194.31 L953.16 1194.51 L967.45 1194.70 L981.74 1194.86 L996.02 1195.02 L1010.31 1195.17 L1024.60 1195.30 L1038.89 1195.43 L1053.17 1195.55 L1067.46 1195.66 L1081.75 1195.77 L1096.04 1195.92 L1110.32 1196.05 L1124.61 1196.18 L1138.90 1196.29 L1153.19 1196.39 L1167.47 1196.47 L1181.76 1196.54 L1196.05 1196.60 L1210.34 1196.65 L1224.62 1196.68 L1238.91 1196.71 L1253.20 1196.73 L1267.49 1196.74 L1281.77 1196.76 L1296.06 1196.77 L1310.35 1196.79 L1324.64 1196.80 L1338.92 1196.81 L1353.21 1196.82 L1367.50 1196.83 L1381.79 1196.84 L1396.08 1196.84 L1410.36 1196.85 L1424.65 1196.86 L1438.94 1196.86 L1453.22 1196.87 L1467.51 1196.87 L1481.80 1196.87 L1496.09 1196.88 L1510.38 1196.88 L1524.66 1196.88 L1538.95 1196.89 L1553.24 1196.89 L1567.52 1196.89 L1581.81 1196.89 L1596.10 1196.89 L1610.39 1196.89 L1624.67 1196.89 L1638.96 1196.89 L1653.25 1196.89 L1667.54 1196.89 L1681.83 1196.89 L1696.11 1196.88 L1710.40 1196.88 L1724.69 1196.88 L1738.97 1196.88 L1753.26 1196.87 L1767.55 1196.87 L1781.84 1196.86 L1796.12 1196.86 L1810.41 1196.85 L1824.70 1196.84 L1838.99 1196.83 L1853.27 1196.82 L1867.56 1196.81 L1881.85 1196.80 L1896.14 1196.79 L1910.42 1196.77 L1924.71 1196.75 L1939.00 1196.73 L1939.00 1196.73" stroke="#00f" stroke-width="11.7" fill="none" stroke-linejoin="miter"/><path d="M224.50 910.57 L225.93 912.60 L227.36 914.66 L228.79 916.73 L230.22 918.83 L231.64 920.93 L233.07 923.06 L234.50 925.20 L235.93 927.35 L237.36 929.51 L238.79 931.69 L240.22 933.88 L241.65 936.08 L243.07 938.29 L244.50 940.51 L245.93 942.73 L247.36 944.97 L248.79 947.20 L250.22 949.45 L251.65 951.70 L253.07 953.95 L254.50 956.20 L255.93 958.46 L257.36 960.71 L258.79 962.97 L260.22 965.22 L261.65 967.48 L263.08 969.73 L264.50 971.98 L265.93 974.22 L267.36 976.46 L268.79 978.69 L270.22 980.91 L271.65 983.13 L273.08 985.34 L274.51 987.53 L275.94 989.72 L277.36 991.90 L278.79 994.06 L280.22 996.21 L281.65 998.35 L283.08 1000.47 L284.51 1002.58 L285.94 1004.67 L287.37 1006.74 L288.79 1008.79 L290.22 1010.83 L291.65 1012.84 L293.08 1014.84 L294.51 1016.81 L295.94 1018.76 L297.37 1020.69 L298.80 1022.59 L300.22 1024.48 L301.65 1026.34 L303.08 1028.19 L304.51 1030.01 L305.94 1031.81 L307.37 1033.59 L308.80 1035.35 L310.23 1037.09 L311.65 1038.81 L313.08 1040.51 L314.51 1042.20 L315.94 1043.86 L317.37 1045.50 L318.80 1047.13 L320.23 1048.74 L321.65 1050.32 L323.08 1051.89 L324.51 1053.45 L325.94 1054.98 L327.37 1056.50 L328.80 1058.00 L330.23 1059.48 L331.66 1060.95 L333.08 1062.39 L334.51 1063.83 L335.94 1065.24 L337.37 1066.64 L338.80 1068.03 L340.23 1069.40 L341.66 1070.75 L343.09 1072.09 L344.51 1073.41 L345.94 1074.72 L347.37 1076.01 L348.80 1077.29 L350.23 1078.56 L351.66 1079.81 L353.09 1081.05 L354.52 1082.27 L355.94 1083.48 L357.37 1084.68 L358.80 1085.86 L360.23 1087.03 L361.66 1088.19 L363.09 1089.34 L364.52 1090.47 L365.95 1091.60 L367.38 1092.71 L370.23 1094.89 L373.09 1097.04 L375.95 1099.14 L378.81 1101.19 L381.66 1103.21 L384.52 1105.19 L387.38 1107.13 L390.24 1109.04 L393.09 1110.90 L395.95 1112.73 L398.81 1114.53 L401.66 1116.29 L404.52 1118.01 L407.38 1119.70 L410.24 1121.36 L413.10 1122.98 L415.95 1124.58 L418.81 1126.14 L421.67 1127.67 L424.52 1129.16 L427.38 1130.63 L430.24 1132.07 L433.10 1133.48 L435.95 1134.86 L438.81 1136.21 L441.67 1137.53 L444.53 1138.83 L447.38 1140.10 L450.24 1141.34 L453.10 1142.56 L455.96 1143.76 L458.81 1144.92 L461.67 1146.07 L464.53 1147.19 L467.39 1148.28 L470.25 1149.35 L473.10 1150.41 L475.96 1151.43 L478.82 1152.44 L481.68 1153.42 L484.53 1154.39 L487.39 1155.33 L490.25 1156.25 L493.11 1157.16 L495.96 1158.04 L498.82 1158.90 L501.68 1159.75 L504.53 1160.58 L507.39 1161.39 L510.25 1162.18 L513.11 1162.95 L515.96 1163.71 L518.82 1164.45 L521.68 1165.17 L524.54 1165.88 L527.39 1166.57 L530.25 1167.25 L533.11 1167.91 L535.97 1168.56 L538.83 1169.19 L541.68 1169.81 L544.54 1170.42 L547.40 1171.01 L550.25 1171.59 L553.11 1172.15 L555.97 1172.70 L558.83 1173.24 L561.68 1173.77 L564.54 1174.29 L567.40 1174.79 L570.26 1175.28 L573.12 1175.76 L575.97 1176.23 L578.83 1176.69 L581.69 1177.14 L584.55 1177.58 L587.40 1178.01 L590.26 1178.43 L593.12 1178.83 L595.97 1179.23 L598.83 1179.62 L601.69 1180.00 L604.55 1180.38 L607.40 1180.74 L610.26 1181.09 L613.12 1181.44 L615.98 1181.78 L618.84 1182.11 L621.69 1182.43 L624.55 1182.75 L627.41 1183.06 L630.26 1183.36 L633.12 1183.65 L635.98 1183.94 L638.84 1184.22 L641.69 1184.49 L644.55 1184.76 L647.41 1185.02 L650.27 1185.27 L653.12 1185.52 L655.98 1185.77 L658.84 1186.00 L661.70 1186.23 L664.56 1186.46 L667.41 1186.68 L670.27 1186.90 L673.13 1187.11 L675.99 1187.31 L678.84 1187.51 L681.70 1187.71 L684.56 1187.90 L687.41 1188.09 L690.27 1188.27 L693.13 1188.45 L695.99 1188.62 L698.85 1188.79 L701.70 1188.96 L704.56 1189.12 L707.42 1189.28 L710.27 1189.44 L713.13 1189.59 L715.99 1189.73 L718.85 1189.88 L721.70 1190.02 L724.56 1190.16 L727.42 1190.29 L730.28 1190.42 L733.13 1190.55 L735.99 1190.67 L738.85 1190.80 L741.71 1190.92 L744.56 1191.03 L747.42 1191.15 L750.28 1191.26 L753.14 1191.37 L756.00 1191.47 L758.85 1191.58 L761.71 1191.68 L764.57 1191.78 L767.42 1191.88 L770.28 1191.97 L773.14 1192.06 L776.00 1192.15 L778.86 1192.24 L781.71 1192.33 L784.57 1192.41 L787.43 1192.50 L790.28 1192.58 L793.14 1192.66 L796.00 1192.73 L810.29 1193.10 L824.57 1193.42 L838.86 1193.72 L853.15 1193.98 L867.44 1194.22 L881.73 1194.44 L896.01 1194.64 L910.30 1194.83 L924.59 1195.00 L938.88 1195.15 L953.16 1195.30 L967.45 1195.44 L981.74 1195.57 L996.02 1195.69 L1010.31 1195.80 L1024.60 1195.91 L1038.89 1196.02 L1053.17 1196.12 L1067.46 1196.22 L1081.75 1196.32 L1096.04 1196.44 L1110.32 1196.55 L1124.61 1196.64 L1138.90 1196.72 L1153.19 1196.78 L1167.47 1196.83 L1181.76 1196.86 L1196.05 1196.88 L1210.34 1196.89 L1224.62 1196.87 L1238.91 1196.89 L1253.20 1196.89 L1267.49 1196.90 L1281.77 1196.91 L1296.06 1196.92 L1310.35 1196.92 L1324.64 1196.93 L1338.92 1196.93 L1353.21 1196.94 L1367.50 1196.94 L1381.79 1196.95 L1396.08 1196.95 L1410.36 1196.95 L1424.65 1196.95 L1438.94 1196.96 L1453.22 1196.96 L1467.51 1196.96 L1481.80 1196.96 L1496.09 1196.96 L1510.38 1196.97 L1524.66 1196.97 L1538.95 1196.97 L1553.24 1196.97 L1567.52 1196.97 L1581.81 1196.97 L1596.10 1196.97 L1610.39 1196.97 L1624.67 1196.97 L1638.96 1196.97 L1653.25 1196.97 L1667.54 1196.97 L1681.83 1196.97 L1696.11 1196.97 L1710.40 1196.97 L1724.69 1196.97 L1738.97 1196.97 L1753.26 1196.97 L1767.55 1196.97 L1781.84 1196.97 L1796.12 1196.97 L1810.41 1196.97 L1824.70 1196.97 L1838.99 1196.97 L1853.27 1196.96 L1867.56 1196.96 L1881.85 1196.96 L1896.14 1196.96 L1910.42 1196.95 L1924.71 1196.95 L1939.00 1196.95 L1939.00 1196.95" stroke="#f00" stroke-width="11.7" fill="none" stroke-linejoin="miter"/><path d="M224.50 1053.73 L225.93 1054.74 L227.36 1055.75 L228.79 1056.76 L230.22 1057.78 L231.64 1058.80 L233.07 1059.83 L234.50 1060.86 L235.93 1061.89 L237.36 1062.92 L238.79 1063.96 L240.22 1065.00 L241.65 1066.04 L243.07 1067.08 L244.50 1068.12 L245.93 1069.16 L247.36 1070.21 L248.79 1071.25 L250.22 1072.29 L251.65 1073.34 L253.07 1074.38 L254.50 1075.43 L255.93 1076.47 L257.36 1077.51 L258.79 1078.55 L260.22 1079.59 L261.65 1080.62 L263.08 1081.66 L264.50 1082.69 L265.93 1083.72 L267.36 1084.75 L268.79 1085.77 L270.22 1086.79 L271.65 1087.81 L273.08 1088.83 L274.51 1089.84 L275.94 1090.84 L277.36 1091.85 L278.79 1092.85 L280.22 1093.84 L281.65 1094.83 L283.08 1095.81 L284.51 1096.79 L285.94 1097.77 L287.37 1098.74 L288.79 1099.70 L290.22 1100.66 L291.65 1101.61 L293.08 1102.55 L294.51 1103.49 L295.94 1104.42 L297.37 1105.35 L298.80 1106.27 L300.22 1107.18 L301.65 1108.08 L303.08 1108.98 L304.51 1109.86 L305.94 1110.74 L307.37 1111.62 L308.80 1112.48 L310.23 1113.34 L311.65 1114.19 L313.08 1115.03 L314.51 1115.87 L315.94 1116.69 L317.37 1117.51 L318.80 1118.33 L320.23 1119.13 L321.65 1119.93 L323.08 1120.72 L324.51 1121.50 L325.94 1122.28 L327.37 1123.05 L328.80 1123.81 L330.23 1124.57 L331.66 1125.32 L333.08 1126.06 L334.51 1126.79 L335.94 1127.52 L337.37 1128.24 L338.80 1128.95 L340.23 1129.66 L341.66 1130.36 L343.09 1131.06 L344.51 1131.74 L345.94 1132.43 L347.37 1133.10 L348.80 1133.77 L350.23 1134.43 L351.66 1135.08 L353.09 1135.73 L354.52 1136.38 L355.94 1137.01 L357.37 1137.64 L358.80 1138.27 L360.23 1138.88 L361.66 1139.50 L363.09 1140.10 L364.52 1140.70 L365.95 1141.30 L367.38 1141.89 L370.23 1143.04 L373.09 1144.18 L375.95 1145.29 L378.81 1146.38 L381.66 1147.45 L384.52 1148.50 L387.38 1149.53 L390.24 1150.53 L393.09 1151.52 L395.95 1152.48 L398.81 1153.43 L401.66 1154.35 L404.52 1155.26 L407.38 1156.15 L410.24 1157.02 L413.10 1157.87 L415.95 1158.70 L418.81 1159.52 L421.67 1160.32 L424.52 1161.10 L427.38 1161.87 L430.24 1162.62 L433.10 1163.35 L435.95 1164.07 L438.81 1164.78 L441.67 1165.47 L444.53 1166.14 L447.38 1166.81 L450.24 1167.45 L453.10 1168.09 L455.96 1168.71 L458.81 1169.32 L461.67 1169.92 L464.53 1170.50 L467.39 1171.08 L470.25 1171.64 L473.10 1172.19 L475.96 1172.73 L478.82 1173.26 L481.68 1173.78 L484.53 1174.28 L487.39 1174.78 L490.25 1175.27 L493.11 1175.74 L495.96 1176.21 L498.82 1176.67 L501.68 1177.11 L504.53 1177.55 L507.39 1177.98 L510.25 1178.40 L513.11 1178.81 L515.96 1179.21 L518.82 1179.60 L521.68 1179.99 L524.54 1180.36 L527.39 1180.73 L530.25 1181.09 L533.11 1181.44 L535.97 1181.78 L538.83 1182.12 L541.68 1182.45 L544.54 1182.77 L547.40 1183.09 L550.25 1183.39 L553.11 1183.69 L555.97 1183.99 L558.83 1184.28 L561.68 1184.56 L564.54 1184.83 L567.40 1185.10 L570.26 1185.36 L573.12 1185.62 L575.97 1185.87 L578.83 1186.11 L581.69 1186.35 L584.55 1186.59 L587.40 1186.81 L590.26 1187.04 L593.12 1187.26 L595.97 1187.47 L598.83 1187.68 L601.69 1187.88 L604.55 1188.08 L607.40 1188.27 L610.26 1188.46 L613.12 1188.65 L615.98 1188.83 L618.84 1189.00 L621.69 1189.17 L624.55 1189.34 L627.41 1189.51 L630.26 1189.67 L633.12 1189.82 L635.98 1189.98 L638.84 1190.13 L641.69 1190.27 L644.55 1190.41 L647.41 1190.55 L650.27 1190.69 L653.12 1190.82 L655.98 1190.95 L658.84 1191.08 L661.70 1191.20 L664.56 1191.32 L667.41 1191.44 L670.27 1191.55 L673.13 1191.67 L675.99 1191.78 L678.84 1191.88 L681.70 1191.99 L684.56 1192.09 L687.41 1192.19 L690.27 1192.29 L693.13 1192.38 L695.99 1192.48 L698.85 1192.57 L701.70 1192.66 L704.56 1192.74 L707.42 1192.83 L710.27 1192.91 L713.13 1192.99 L715.99 1193.07 L718.85 1193.15 L721.70 1193.23 L724.56 1193.30 L727.42 1193.37 L730.28 1193.44 L733.13 1193.51 L735.99 1193.58 L738.85 1193.65 L741.71 1193.71 L744.56 1193.78 L747.42 1193.84 L750.28 1193.90 L753.14 1193.96 L756.00 1194.02 L758.85 1194.08 L761.71 1194.14 L764.57 1194.19 L767.42 1194.25 L770.28 1194.30 L773.14 1194.35 L776.00 1194.40 L778.86 1194.45 L781.71 1194.50 L784.57 1194.55 L787.43 1194.60 L790.28 1194.65 L793.14 1194.69 L796.00 1194.74 L810.29 1194.95 L824.57 1195.15 L838.86 1195.34 L853.15 1195.51 L867.44 1195.68 L881.73 1195.84 L896.01 1195.99 L910.30 1196.14 L924.59 1196.28 L938.88 1196.43 L953.16 1196.56 L967.45 1196.70 L981.74 1196.84 L996.02 1196.97 L1010.31 1197.11 L1024.60 1197.25 L1038.89 1197.38 L1053.17 1197.52 L1067.46 1197.65 L1081.75 1197.79 L1096.04 1197.83 L1110.32 1197.84 L1124.61 1197.83 L1138.90 1197.79 L1153.19 1197.72 L1167.47 1197.63 L1181.76 1197.51 L1196.05 1197.36 L1210.34 1197.19 L1224.62 1196.99 L1238.91 1196.99 L1253.20 1197.00 L1267.49 1197.00 L1281.77 1197.00 L1296.06 1197.00 L1310.35 1197.00 L1324.64 1197.00 L1338.92 1197.00 L1353.21 1197.00 L1367.50 1197.00 L1381.79 1197.00 L1396.08 1197.00 L1410.36 1197.00 L1424.65 1197.00 L1438.94 1197.00 L1453.22 1197.00 L1467.51 1197.00 L1481.80 1197.00 L1496.09 1197.00 L1510.38 1197.00 L1524.66 1197.00 L1538.95 1197.00 L1553.24 1197.00 L1567.52 1197.00 L1581.81 1197.00 L1596.10 1197.00 L1610.39 1197.00 L1624.67 1197.00 L1638.96 1197.00 L1653.25 1197.00 L1667.54 1197.00 L1681.83 1197.00 L1696.11 1197.00 L1710.40 1197.00 L1724.69 1197.00 L1738.97 1197.00 L1753.26 1197.00 L1767.55 1197.00 L1781.84 1197.00 L1796.12 1197.00 L1810.41 1197.00 L1824.70 1197.00 L1838.99 1197.00 L1853.27 1197.00 L1867.56 1197.00 L1881.85 1197.00 L1896.14 1197.00 L1910.42 1197.00 L1924.71 1197.00 L1939.00 1197.00 L1939.00 1197.00" stroke="#000" stroke-width="11.7" fill="none" stroke-linejoin="miter"/><path d="M224.45 767.30 L226.14 767.96 L227.83 768.64 L229.52 769.32 L231.20 770.00 L232.89 770.67 L234.59 771.32 L236.29 771.93 L238.00 772.50 L239.70 773.02 L241.40 773.49 L243.11 773.93 L244.83 774.35 L246.55 774.76 L248.27 775.16 L249.99 775.57 L251.70 776.00 M269.90 756.60 L270.61 754.74 L271.32 752.89 L272.04 751.04 L272.75 749.19 L273.47 747.35 L274.18 745.49 L274.89 743.63 L275.60 741.77 L276.30 739.89 L277.00 738.00 L277.65 736.22 L278.29 734.43 L278.93 732.63 L279.57 730.82 L280.20 729.01 L280.84 727.19 L281.47 725.37 L282.10 723.55 L282.73 721.73 L283.36 719.91 L284.00 718.10 M290.60 691.40 L295.80 659.60 M301.00 632.20 L306.20 601.40 M311.40 571.80 L316.50 541.40 M321.70 513.30 L327.70 482.20 M334.30 454.80 L334.81 452.95 L335.32 451.06 L335.84 449.15 L336.36 447.21 L336.88 445.25 L337.40 443.29 L337.92 441.33 L338.44 439.36 L338.96 437.42 L339.48 435.48 L340.00 433.58 L340.51 431.70 L341.02 429.86 L341.52 428.07 L342.01 426.33 L342.50 424.64 L342.97 423.02 L343.44 421.47 L343.90 420.00 L344.59 417.88 L345.26 415.92 L345.91 414.09 L346.55 412.34 L347.19 410.65 L347.82 408.97 L348.46 407.27 L349.10 405.50 M361.70 379.60 L362.98 378.27 L364.23 376.89 L365.47 375.50 L366.71 374.12 L367.98 372.77 L369.29 371.48 L370.66 370.29 L372.10 369.20 L373.62 368.25 L375.22 367.41 L376.87 366.66 L378.57 365.97 L380.28 365.32 L382.01 364.67 L383.72 364.01 L385.40 363.30 M415.00 361.80 L446.10 357.40 M453.50 354.40 L481.70 341.00 M502.40 329.20 L533.00 318.00 M556.00 309.00 L589.00 306.00 M594.00 304.00 L626.00 302.00 M655.00 300.00 L686.00 299.00 M716.00 298.00 L747.00 297.00 M777.00 297.00 L836.00 297.00 M865.00 298.00 L897.00 298.00 M927.30 298.20 L957.80 299.20 M987.40 300.20 L1018.90 300.20 M1049.50 300.60 L1081.00 301.20 M1110.50 302.20 L1143.00 302.20 M1149.00 302.60 L1179.50 303.20 M1210.00 303.50 L1241.60 303.50 M1272.00 304.00 L1303.00 304.00 M1333.00 305.00 L1365.00 305.00 M1394.00 305.30 L1425.80 305.30 M1456.00 305.90 L1487.00 305.90 M1517.00 306.20 L1577.00 306.20 M1607.00 306.00 L1638.00 306.00 M1668.00 306.20 L1700.00 306.20 M1729.00 306.20 L1761.00 306.20 M1791.00 307.00 L1823.00 307.00 M1852.00 307.00 L1884.00 307.00 M1913.00 307.00 L1939.00 307.00" stroke="#00f" stroke-width="11.7" fill="none" stroke-linecap="butt" stroke-linejoin="miter"/><path d="M224.45 910.50 L236.70 882.80 M241.50 860.00 L241.86 858.11 L242.22 856.22 L242.59 854.33 L242.95 852.44 L243.32 850.54 L243.68 848.65 L244.05 846.76 L244.41 844.86 L244.78 842.97 L245.14 841.08 L245.50 839.19 L245.86 837.30 L246.22 835.41 L246.58 833.52 L246.94 831.64 L247.30 829.76 L247.65 827.88 L248.00 826.00 L248.36 824.05 L248.72 822.10 L249.08 820.15 L249.44 818.20 L249.79 816.26 L250.15 814.32 L250.50 812.38 L250.85 810.44 L251.20 808.50 L251.55 806.57 L251.90 804.63 L252.25 802.69 L252.60 800.75 L252.95 798.82 L253.30 796.88 L253.65 794.94 L254.00 793.00 M260.80 766.00 L261.50 734.40 M266.50 705.50 L266.90 673.70 M270.20 644.80 L272.10 613.70 M275.10 584.40 L278.00 552.50 M281.00 523.70 L283.20 492.60 M286.90 462.20 L289.90 431.80 M293.30 402.50 L297.30 372.20 M302.50 343.30 L308.40 311.40 M312.80 296.60 L313.43 294.77 L314.05 292.93 L314.65 291.08 L315.26 289.23 L315.89 287.40 L316.54 285.58 L317.24 283.77 L318.00 282.00 L318.82 280.26 L319.69 278.55 L320.61 276.86 L321.56 275.18 L322.53 273.52 L323.50 271.85 L324.46 270.18 L325.40 268.50 M346.40 252.30 L348.35 252.44 L350.30 252.57 L352.24 252.71 L354.19 252.84 L356.14 252.98 L358.09 253.12 L360.04 253.26 L362.00 253.40 L363.77 253.53 L365.54 253.66 L367.32 253.79 L369.10 253.93 L370.88 254.06 L372.66 254.20 L374.44 254.33 L376.22 254.47 L378.00 254.60 M404.30 251.00 L406.13 250.22 L407.96 249.45 L409.79 248.69 L411.61 247.93 L413.43 247.17 L415.26 246.41 L417.08 245.65 L418.91 244.88 L420.74 244.11 L422.58 243.32 L424.42 242.52 L426.27 241.70 L428.13 240.86 L430.00 240.00 L431.66 239.22 L433.33 238.42 L435.01 237.61 L436.69 236.78 L438.38 235.94 L440.07 235.09 L441.77 234.23 L443.47 233.36 L445.17 232.49 L446.88 231.61 L448.59 230.73 L450.29 229.85 L452.00 228.97 L453.70 228.09 L455.40 227.22 L457.10 226.36 L458.80 225.50 M482.00 214.40 L483.87 213.96 L485.74 213.49 L487.61 213.02 L489.47 212.55 L491.34 212.10 L493.22 211.68 L495.10 211.31 L497.00 211.00 L498.92 210.76 L500.84 210.58 L502.78 210.45 L504.72 210.35 L506.67 210.27 L508.61 210.19 L510.56 210.11 L512.50 210.00 M542.00 212.00 L573.00 215.00 M574.00 214.40 L605.00 218.50 M634.00 221.00 L667.00 224.00 M692.00 229.00 L724.00 233.00 M751.00 238.00 L783.00 243.00 M794.00 245.00 L826.00 249.00 M853.00 253.00 L885.00 257.00 M913.50 259.80 L946.00 264.70 M973.60 266.70 L1005.10 272.60 M1034.70 272.60 L1066.20 278.50 M1094.80 279.50 L1126.30 282.50 M1148.00 283.40 L1179.50 286.40 M1208.10 287.40 L1241.60 289.40 M1269.20 292.00 L1301.90 292.30 M1332.00 294.80 L1363.00 295.00 M1392.30 297.00 L1424.20 297.20 M1454.30 298.20 L1484.80 298.40 M1514.60 299.80 L1574.90 300.30 M1605.00 301.30 L1636.00 302.00 M1667.00 302.70 L1699.00 302.90 M1728.00 303.00 L1760.00 303.20 M1790.00 304.00 L1821.00 304.20 M1851.00 304.90 L1883.00 305.00 M1912.00 305.00 L1939.00 305.10" stroke="#f00" stroke-width="11.7" fill="none" stroke-linecap="butt" stroke-linejoin="miter"/><path d="M224.45 1053.70 L235.80 1025.10 M238.80 997.00 L242.50 967.40 M244.70 937.80 L245.50 905.90 M247.30 894.00 L248.80 865.10 M251.00 833.30 L251.80 802.20 M254.00 771.80 L254.70 743.00 M256.30 711.40 L257.80 681.80 M259.50 650.00 L260.30 618.90 M261.50 589.60 L262.50 558.50 M263.20 528.80 L265.20 497.70 M266.50 467.40 L267.20 435.50 M268.90 405.50 L269.20 375.10 M271.40 344.80 L272.40 314.40 M274.60 283.30 L275.40 253.70 M279.50 222.50 L281.00 192.20 M283.20 164.00 L286.20 131.40 M291.40 104.00 L291.82 102.10 L292.24 100.18 L292.64 98.25 L293.05 96.32 L293.46 94.40 L293.88 92.50 L294.33 90.63 L294.80 88.79 L295.30 87.00 L295.85 85.22 L296.43 83.50 L297.04 81.80 L297.67 80.14 L298.31 78.48 L298.94 76.83 L299.58 75.17 L300.20 73.50 M321.70 76.70 L341.00 101.00 M357.30 121.00 L358.93 121.87 L360.55 122.80 L362.16 123.76 L363.78 124.71 L365.40 125.64 L367.03 126.51 L368.67 127.30 L370.32 127.97 L372.00 128.50 L373.82 128.89 L375.66 129.12 L377.52 129.22 L379.39 129.24 L381.27 129.21 L383.15 129.17 L385.03 129.16 L386.90 129.20 M409.00 115.20 L437.20 98.90 M446.00 91.50 L447.74 91.05 L449.48 90.57 L451.21 90.08 L452.94 89.59 L454.68 89.13 L456.43 88.70 L458.20 88.32 L460.00 88.00 L461.91 87.75 L463.85 87.56 L465.81 87.43 L467.78 87.33 L469.76 87.26 L471.75 87.19 L473.73 87.11 L475.70 87.00 M502.40 93.00 L532.00 103.00 M554.00 115.00 L587.00 124.00 M591.00 128.00 L623.00 136.00 M646.00 146.00 L678.00 154.00 M703.00 165.00 L735.00 173.00 M760.00 183.00 L791.00 191.00 M801.00 196.00 L833.00 204.00 M858.00 212.00 L891.00 219.00 M917.40 225.30 L949.00 232.20 M977.50 238.10 L1009.00 244.00 M1036.70 249.00 L1069.20 254.90 M1096.70 257.80 L1129.30 261.80 M1148.00 264.70 L1178.50 269.70 M1208.10 271.60 L1239.60 275.60 M1268.00 279.50 L1300.00 280.40 M1328.70 283.70 L1361.30 284.00 M1389.80 287.70 L1421.60 288.30 M1450.00 291.40 L1482.00 291.80 M1509.60 294.00 L1543.00 294.40 M1544.00 294.40 L1575.70 295.00 M1605.00 296.90 L1636.80 298.00 M1666.00 299.00 L1698.00 299.30 M1726.80 300.70 L1759.10 301.00 M1788.90 302.20 L1820.30 302.40 M1850.00 302.80 L1882.00 303.00 M1910.70 303.50 L1939.00 303.60" stroke="#000" stroke-width="11.7" fill="none" stroke-linecap="butt" stroke-linejoin="miter"/><path d="M239.22 783.21L241.78 786.79M257.89 818.00L259.71 822.00M266.10 838.46L267.70 842.56M273.06 854.72L274.94 858.71M283.95 876.02L286.25 879.78M295.20 892.40L298.00 895.80M308.25 906.65L311.55 909.55M325.07 919.48L328.73 921.92M343.50 930.69L347.30 932.91M359.13 939.55L362.87 941.85M376.81 951.47L380.59 953.73M395.98 962.02L400.02 963.78M415.91 969.61L420.09 970.99M435.89 975.69L440.11 976.91M457.26 981.69L461.54 982.71M478.04 986.17L482.36 987.03M493.53 989.25L497.87 989.95M515.54 992.60L519.94 992.60M538.50 994.35L542.90 994.35M561.46 995.60L565.86 995.60M584.42 996.56L588.82 996.56M607.38 997.20L611.78 997.20M630.34 997.20L634.74 997.20M653.30 997.20L657.70 997.20M676.26 996.66L680.66 996.66M699.22 995.79L703.62 995.79M722.18 995.07L726.58 995.07M745.14 994.25L749.54 994.25M768.10 993.27L772.50 993.27M791.06 992.00L795.46 992.00M814.02 990.02L818.42 990.02M836.98 988.57L841.38 988.57M859.94 987.34L864.34 987.34M882.90 986.20L887.30 986.20M905.86 985.00L910.26 985.00M928.82 983.67L933.22 983.67M951.78 982.32L956.18 982.32M974.74 981.10L979.14 981.10M997.70 980.11L1002.10 980.11M1020.66 979.12L1025.06 979.12M1043.62 977.85L1048.02 977.85M1066.58 976.45L1070.98 976.45M1089.54 975.18L1093.94 975.18M1112.50 974.12L1116.90 974.12M1135.46 973.15L1139.86 973.15M1158.42 972.23L1162.82 972.23M1181.38 971.31L1185.78 971.31M1204.34 970.40L1208.74 970.40M1227.30 969.51L1231.70 969.51M1250.26 968.64L1254.66 968.64M1273.22 967.78L1277.62 967.78M1296.18 966.95L1300.58 966.95M1319.14 966.14L1323.54 966.14M1342.10 965.36L1346.50 965.36M1365.06 964.62L1369.46 964.62M1388.02 963.90L1392.42 963.90M1410.98 963.20L1415.38 963.20M1433.94 962.53L1438.34 962.53M1456.90 961.87L1461.30 961.87M1479.86 961.24L1484.26 961.24M1502.82 960.63L1507.22 960.63M1525.78 960.05L1530.18 960.05M1548.74 959.50L1553.14 959.50M1571.70 958.97L1576.10 958.97M1594.66 958.47L1599.06 958.47M1617.62 957.98L1622.02 957.98M1640.58 957.51L1644.98 957.51M1663.54 957.05L1667.94 957.05M1686.50 956.61L1690.90 956.61M1709.46 956.18L1713.86 956.18M1732.42 955.77L1736.82 955.77M1755.38 955.37L1759.78 955.37M1778.34 954.98L1782.74 954.98M1801.30 954.60L1805.70 954.60M1824.26 954.23L1828.66 954.23M1847.22 953.87L1851.62 953.87M1870.18 953.53L1874.58 953.53M1893.14 953.19L1897.54 953.19M1916.10 952.88L1920.50 952.88" stroke="#00f" stroke-width="11.7" fill="none" stroke-linecap="butt"/><path d="M229.88 907.67L234.12 906.49M246.87 907.95L251.13 909.05M263.51 922.38L266.69 925.42M279.28 937.83L282.72 940.57M296.77 950.26L300.83 951.94M316.66 956.47L320.94 957.53M338.84 961.29L343.16 962.08M355.84 964.16L360.16 965.04M376.55 969.37L380.85 970.32M398.03 973.65L402.37 974.35M420.21 976.79L424.59 977.21M442.41 978.52L446.79 978.88M463.91 980.53L468.29 980.87M486.90 982.17L491.30 982.23M515.54 982.40L519.94 982.40M538.50 982.44L542.90 982.44M561.46 982.48L565.86 982.48M584.42 982.49L588.82 982.49M607.38 982.50L611.78 982.50M630.34 981.92L634.74 981.92M653.30 980.99L657.70 980.99M676.26 980.30L680.66 980.30M699.22 979.54L703.62 979.54M722.18 978.48L726.58 978.48M745.14 977.34L749.54 977.34M768.10 976.37L772.50 976.37M791.06 975.50L795.46 975.50M814.02 974.81L818.42 974.81M836.98 973.99L841.38 973.99M859.94 973.09L864.34 973.09M882.90 972.14L887.30 972.14M905.86 971.20L910.26 971.20M928.82 970.26L933.22 970.26M951.78 969.32L956.18 969.32M974.74 968.35L979.14 968.35M997.70 967.29L1002.10 967.29M1020.66 966.32L1025.06 966.32M1043.62 965.58L1048.02 965.58M1066.58 964.94L1070.98 964.94M1089.54 964.32L1093.94 964.32M1112.50 963.65L1116.90 963.65M1135.46 963.00L1139.86 963.00M1158.42 962.42L1162.82 962.42M1181.38 961.91L1185.78 961.91M1204.34 961.45L1208.74 961.45M1227.30 961.02L1231.70 961.02M1250.26 960.62L1254.66 960.62M1273.22 960.22L1277.62 960.22M1296.18 959.82L1300.58 959.82M1319.14 959.42L1323.54 959.42M1342.10 958.98L1346.50 958.98M1365.06 958.51L1369.46 958.51M1388.02 957.99L1392.42 957.99M1410.98 957.40L1415.38 957.40M1433.94 956.78L1438.34 956.78M1456.90 956.15L1461.30 956.15M1479.86 955.53L1484.26 955.53M1502.82 954.95L1507.22 954.95M1525.78 954.44L1530.18 954.44M1548.74 954.00L1553.14 954.00M1571.70 953.63L1576.10 953.63M1594.66 953.30L1599.06 953.30M1617.62 952.99L1622.02 952.99M1640.58 952.70L1644.98 952.70M1663.54 952.43L1667.94 952.43M1686.50 952.17L1690.90 952.17M1709.46 951.92L1713.86 951.92M1732.42 951.67L1736.82 951.67M1755.38 951.42L1759.78 951.42M1778.34 951.16L1782.74 951.16M1801.30 950.92L1805.70 950.92M1824.26 950.68L1828.66 950.68M1847.22 950.45L1851.62 950.45M1870.18 950.22L1874.58 950.22M1893.14 950.00L1897.54 950.00M1916.10 949.79L1920.50 949.79" stroke="#f00" stroke-width="11.7" fill="none" stroke-linecap="butt"/><path d="M229.73 1038.39L231.27 1034.27M237.02 1019.87L238.98 1015.93M246.96 1001.00L250.64 998.60M266.30 995.10L270.70 995.10M287.20 999.48L291.60 999.52M310.10 999.60L314.50 999.60M330.27 995.25L334.53 994.15M350.26 989.72L354.54 988.68M360.92 987.07L365.28 986.53M381.01 985.38L385.39 984.97M403.91 982.45L408.29 981.95M426.21 980.22L430.59 979.78M448.41 977.87L452.79 977.53M472.10 976.44L476.50 976.16M494.31 974.99L498.69 974.61M515.54 972.20L519.94 972.20M538.50 970.54L542.90 970.54M561.46 969.27L565.86 969.27M584.42 968.22L588.82 968.22M607.38 967.25L611.78 967.25M630.34 966.38L634.74 966.38M653.30 965.56L657.70 965.56M676.26 964.52L680.66 964.52M699.22 963.33L703.62 963.33M722.18 962.20L726.58 962.20M745.14 961.33L749.54 961.33M768.10 960.81L772.50 960.81M791.06 960.30L795.46 960.30M814.02 959.37L818.42 959.37M836.98 958.43L841.38 958.43M859.94 957.83L864.34 957.83M882.90 957.34L887.30 957.34M905.86 956.91L910.26 956.91M928.82 956.51L933.22 956.51M951.78 956.14L956.18 956.14M974.74 955.82L979.14 955.82M997.70 955.49L1002.10 955.49M1020.66 955.11L1025.06 955.11M1043.62 954.60L1048.02 954.60M1066.58 954.01L1070.98 954.01M1089.54 953.51L1093.94 953.51M1112.50 953.12L1116.90 953.12M1135.46 952.79L1139.86 952.79M1158.42 952.51L1162.82 952.51M1181.38 952.27L1185.78 952.27M1204.34 952.06L1208.74 952.06M1227.30 951.87L1231.70 951.87M1250.26 951.69L1254.66 951.69M1273.22 951.52L1277.62 951.52M1296.18 951.36L1300.58 951.36M1319.14 951.19L1323.54 951.19M1342.10 951.01L1346.50 951.01M1365.06 950.81L1369.46 950.81M1388.02 950.58L1392.42 950.58M1410.98 950.33L1415.38 950.33M1433.94 950.07L1438.34 950.07M1456.90 949.81L1461.30 949.81M1479.86 949.55L1484.26 949.55M1502.82 949.31L1507.22 949.31M1525.78 949.09L1530.18 949.09M1548.74 948.90L1553.14 948.90M1571.70 948.74L1576.10 948.74M1594.66 948.60L1599.06 948.60M1617.62 948.47L1622.02 948.47M1640.58 948.34L1644.98 948.34M1663.54 948.23L1667.94 948.23M1686.50 948.11L1690.90 948.11M1709.46 948.00L1713.86 948.00M1732.42 947.88L1736.82 947.88M1755.38 947.76L1759.78 947.76M1778.34 947.64L1782.74 947.64M1801.30 947.51L1805.70 947.51M1824.26 947.39L1828.66 947.39M1847.22 947.27L1851.62 947.27M1870.18 947.15L1874.58 947.15M1893.14 947.03L1897.54 947.03M1916.10 946.91L1920.50 946.91" stroke="#000" stroke-width="11.7" fill="none" stroke-linecap="butt"/></g>
<g fill="#000"><rect x="223" y="50" width="3" height="1149"/><rect x="1937" y="50" width="4" height="1149"/><rect x="223" y="50" width="1718" height="3"/><rect x="223" y="1195" width="1718" height="4"/><rect x="508" y="1179.5" width="4" height="17.5"/><rect x="508" y="51" width="4" height="18.0"/><rect x="794" y="1179.5" width="4" height="17.5"/><rect x="794" y="51" width="4" height="18.0"/><rect x="1080" y="1179.5" width="4" height="17.5"/><rect x="1080" y="51" width="4" height="18.0"/><rect x="1365" y="1179.5" width="4" height="17.5"/><rect x="1365" y="51" width="4" height="18.0"/><rect x="1651" y="1179.5" width="4" height="17.5"/><rect x="1651" y="51" width="4" height="18.0"/><rect x="225" y="1051" width="17.5" height="3.6"/><rect x="1921.5" y="1051" width="17.5" height="3.6"/><rect x="225" y="908" width="17.5" height="3.6"/><rect x="1921.5" y="908" width="17.5" height="3.6"/><rect x="225" y="765" width="17.5" height="3.6"/><rect x="1921.5" y="765" width="17.5" height="3.6"/><rect x="225" y="622" width="17.5" height="3.6"/><rect x="1921.5" y="622" width="17.5" height="3.6"/><rect x="225" y="479" width="17.5" height="3.6"/><rect x="1921.5" y="479" width="17.5" height="3.6"/><rect x="225" y="336" width="17.5" height="3.6"/><rect x="1921.5" y="336" width="17.5" height="3.6"/><rect x="225" y="192" width="17.5" height="3.6"/><rect x="1921.5" y="192" width="17.5" height="3.6"/></g>
<g font-family="'Liberation Serif', 'Times New Roman', serif" font-weight="bold" font-size="59" fill="#000"><text transform="translate(209.00,1218.00) scale(0.954,1)" text-anchor="end">0</text><text transform="translate(209.00,1074.81) scale(0.954,1)" text-anchor="end">0.05</text><text transform="translate(209.00,931.62) scale(0.954,1)" text-anchor="end">0.1</text><text transform="translate(209.00,788.44) scale(0.954,1)" text-anchor="end">0.15</text><text transform="translate(209.00,645.25) scale(0.954,1)" text-anchor="end">0.2</text><text transform="translate(209.00,502.06) scale(0.954,1)" text-anchor="end">0.25</text><text transform="translate(209.00,358.88) scale(0.954,1)" text-anchor="end">0.3</text><text transform="translate(209.00,215.69) scale(0.954,1)" text-anchor="end">0.35</text><text transform="translate(209.00,72.50) scale(0.954,1)" text-anchor="end">0.4</text><text transform="translate(224.50,1264.20) scale(0.954,1)" text-anchor="middle">0</text><text transform="translate(510.25,1264.20) scale(0.954,1)" text-anchor="middle">200</text><text transform="translate(796.00,1264.20) scale(0.954,1)" text-anchor="middle">400</text><text transform="translate(1081.75,1264.20) scale(0.954,1)" text-anchor="middle">600</text><text transform="translate(1367.50,1264.20) scale(0.954,1)" text-anchor="middle">800</text><text transform="translate(1653.25,1264.20) scale(0.954,1)" text-anchor="middle">1000</text><text transform="translate(1939.00,1264.20) scale(0.954,1)" text-anchor="middle">1200</text><text transform="translate(1082.90,1326.00) scale(0.954,1)" text-anchor="middle">Time</text><text transform="translate(76.50,624.50) rotate(-90) scale(0.954,1)" text-anchor="middle">Latently infected macrophages</text><text transform="translate(1653.25,274.50) scale(0.954,1)" text-anchor="start">Case (II)</text><text transform="translate(1657.95,910.50) scale(0.954,1)" text-anchor="start">Case (III)</text><text transform="translate(1657.25,1173.30) scale(0.954,1)" text-anchor="start">Case (I)</text></g>
</svg>
</body></html>
